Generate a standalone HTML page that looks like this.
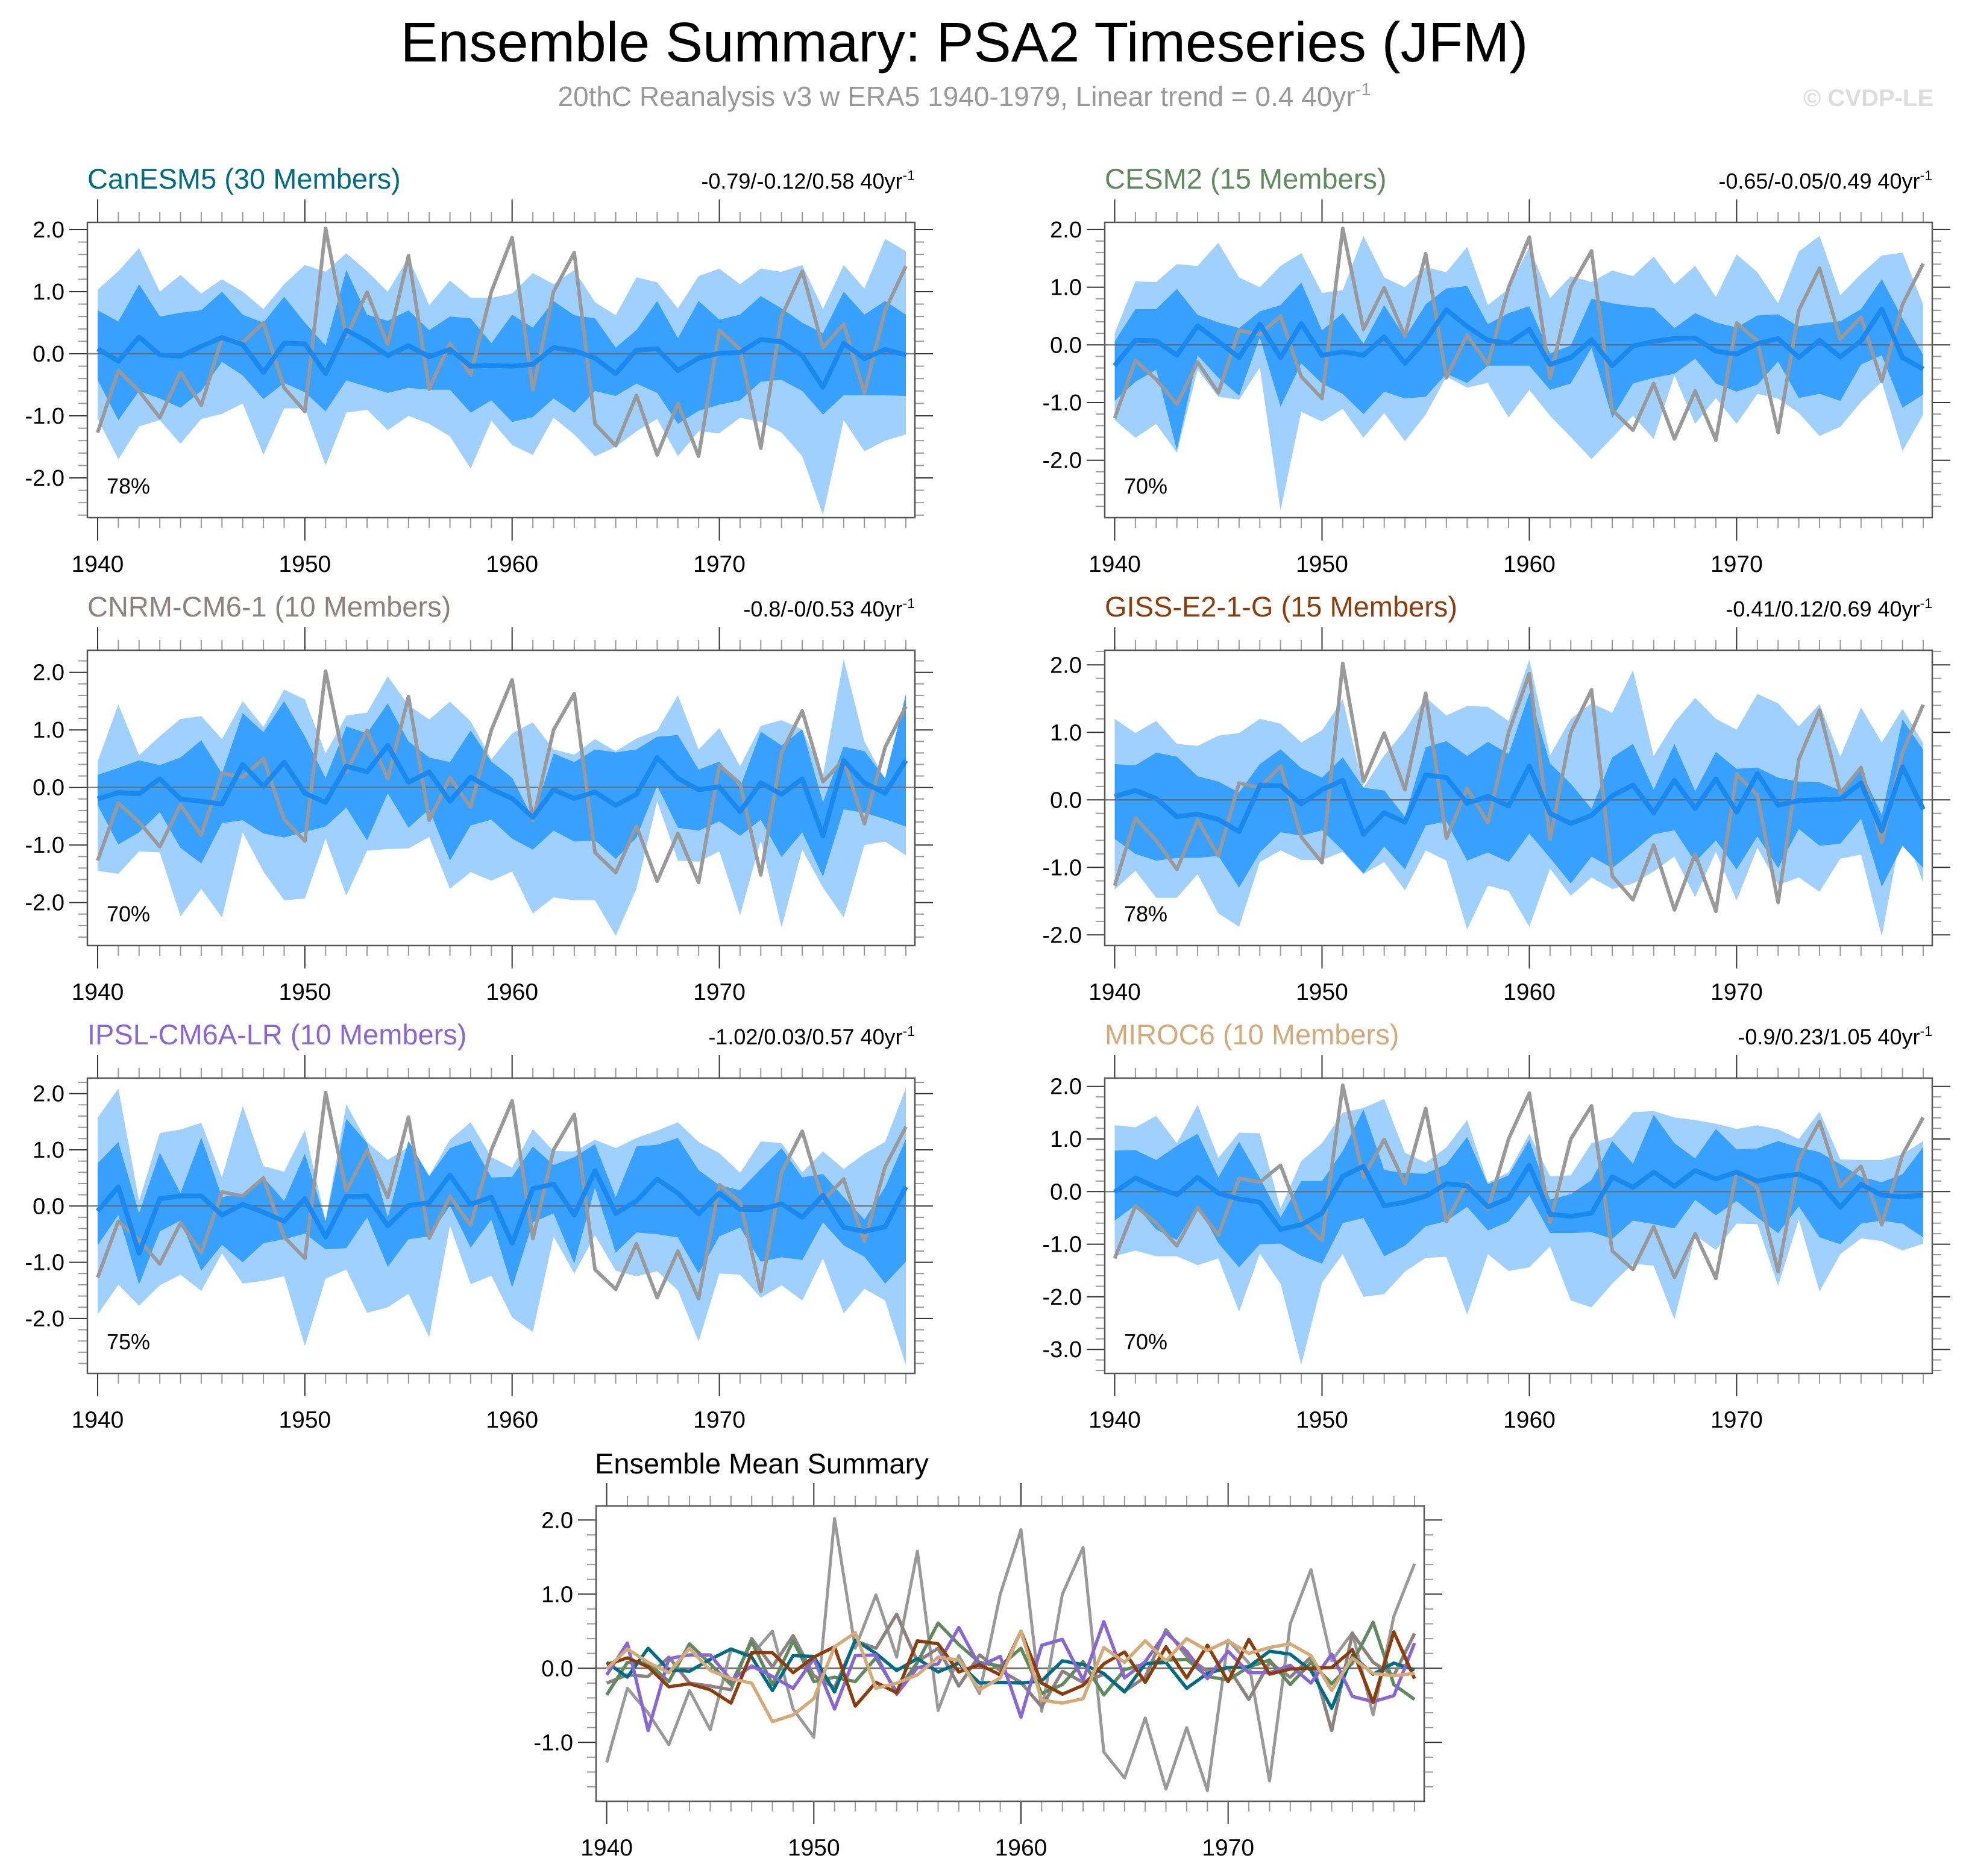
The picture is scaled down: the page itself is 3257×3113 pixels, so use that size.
<!DOCTYPE html>
<html><head><meta charset="utf-8">
<style>
html,body{margin:0;padding:0;background:#fff;}
svg{display:block;font-family:"Liberation Sans",sans-serif;}
</style></head>
<body>
<svg id="chart" width="3257" height="3113" viewBox="0 0 3257 3113" xmlns="http://www.w3.org/2000/svg">
<rect width="3257" height="3113" fill="#fff"/>
<text x="1600" y="102" font-size="93" text-anchor="middle" fill="#000">Ensemble Summary: PSA2 Timeseries (JFM)</text>
<text x="1600" y="176" font-size="46" text-anchor="middle" fill="#999">20thC Reanalysis v3 w ERA5 1940-1979, Linear trend = 0.4 40yr<tspan dy="-18" font-size="29">-1</tspan></text>
<text x="3208" y="176" font-size="40" font-weight="bold" text-anchor="end" fill="#ddd">© CVDP-LE</text>
<g id="plots"></g>
</svg>
<script>
const years = Array.from({length:40},(_,i)=>1940+i);
const observed = [-1.27,-0.27,-0.6,-1.03,-0.3,-0.83,0.25,0.18,0.5,-0.55,-0.93,2.02,0.27,0.99,0.15,1.58,-0.57,0.17,-0.34,1.0,1.87,-0.58,1.0,1.63,-1.13,-1.48,-0.67,-1.63,-0.8,-1.65,0.38,0.07,-1.52,0.6,1.33,0.1,0.48,-0.63,0.7,1.41];

const canMean=[0.08,-0.12,0.27,-0.02,-0.04,0.12,0.26,0.15,-0.3,0.17,0.16,-0.32,0.38,0.2,-0.03,0.13,-0.05,0.07,-0.2,-0.19,-0.2,-0.17,0.1,0.05,-0.07,-0.32,0.06,0.08,-0.27,-0.07,0.01,0.02,0.23,0.19,-0.03,-0.54,0.17,-0.08,0.07,-0.02];
const canDarkHi=[0.7,0.52,1.12,0.6,0.66,0.7,1.0,0.63,0.5,0.92,0.5,0.13,1.35,0.63,0.53,0.7,0.38,0.6,0.57,0.17,0.63,0.42,0.85,0.62,0.57,0.1,0.38,0.85,0.25,0.85,0.55,0.63,0.93,0.73,0.5,0.33,1.0,0.63,0.85,0.63];
const canDarkLo=[-0.42,-1.07,-0.6,-0.72,-0.87,-0.6,-0.13,-0.35,-0.73,-0.47,-0.62,-0.93,-0.43,-0.53,-0.63,-0.55,-0.58,-0.58,-0.95,-0.75,-1.1,-1.02,-0.72,-0.95,-0.6,-0.68,-0.48,-0.63,-1.13,-0.92,-0.82,-0.75,-0.45,-0.42,-0.6,-0.98,-0.67,-0.67,-0.67,-0.68];
const canLightHi=[1.03,1.33,1.7,1.0,1.27,0.97,1.2,1.0,0.72,1.12,1.43,1.32,1.62,1.33,1.0,1.55,0.78,1.18,0.9,0.9,0.97,1.3,1.12,1.35,0.83,0.62,1.23,1.15,0.73,1.25,1.37,1.12,1.37,1.32,1.43,0.72,1.43,1.05,1.85,1.65];
const canLightLo=[-1.05,-1.7,-1.17,-1.07,-1.45,-1.05,-0.97,-0.8,-1.63,-0.88,-0.88,-1.8,-0.95,-0.9,-1.23,-1.0,-1.13,-1.33,-1.85,-1.08,-1.47,-1.63,-1.03,-1.3,-1.65,-1.5,-1.25,-1.05,-1.65,-1.25,-1.28,-1.03,-1.1,-1.27,-1.65,-2.6,-1.07,-1.57,-1.4,-1.3];

const cesMean=[-0.36,0.08,0.07,-0.18,0.33,0.06,-0.22,0.36,-0.22,0.37,-0.18,-0.12,-0.18,0.14,-0.32,0.08,0.61,0.32,0.08,0.03,0.27,-0.34,-0.22,0.09,-0.36,-0.02,0.06,0.11,0.12,-0.11,-0.16,0.02,0.11,-0.22,0.08,-0.21,0.07,0.62,-0.22,-0.42];
const cesDarkHi=[0.06,0.62,0.62,0.97,0.52,0.39,0.29,0.58,0.69,1.08,0.25,0.55,0.02,0.69,0.13,0.7,0.98,1.02,0.36,0.55,0.67,-0.15,-0.01,0.8,0.72,0.67,0.64,0.29,0.55,0.39,0.3,0.51,0.53,0.32,0.37,0.41,0.62,1.14,0.46,-0.18];
const cesDarkLo=[-0.97,-0.64,-0.43,-1.82,-0.18,-0.57,-0.88,0.13,-1.07,-0.32,-0.67,-0.85,-1.2,-0.81,-0.93,-0.9,-0.5,-0.66,-0.36,-0.36,-0.36,-0.78,-0.67,-0.05,-1.26,-0.67,-0.57,-0.5,-0.24,-0.67,-0.81,-0.69,-0.29,-0.92,-0.85,-0.97,-0.34,-0.18,-1.09,-0.86];
const cesLightHi=[0.2,1.1,1.09,1.4,1.37,1.77,1.17,1.0,1.37,1.59,0.9,0.95,1.89,1.17,1.0,1.35,1.26,1.7,0.69,0.97,1.7,0.81,1.19,1.09,1.29,1.19,1.53,1.05,1.37,0.83,1.57,1.26,0.72,1.62,1.89,0.86,1.23,1.55,1.6,0.7];
const cesLightLo=[-1.3,-1.61,-1.37,-1.87,-0.43,-0.9,-0.95,-0.39,-2.87,-1.16,-1.33,-1.11,-1.61,-1.18,-1.67,-1.21,-0.55,-0.74,-0.66,-1.26,-0.78,-1.23,-1.6,-1.98,-1.61,-1.23,-1.63,-0.53,-1.37,-0.92,-1.37,-0.85,-0.93,-1.18,-1.58,-1.42,-0.99,-0.64,-1.84,-1.21];

const cnrmMean=[-0.2,-0.09,-0.11,0.15,-0.2,-0.24,-0.29,0.4,0.02,0.44,-0.1,-0.26,0.37,0.27,0.73,0.09,0.27,-0.24,0.18,-0.03,-0.19,-0.52,-0.04,-0.19,-0.08,-0.31,-0.12,0.52,0.16,-0.04,0.01,-0.42,0.08,-0.12,0.15,-0.84,0.47,0.08,-0.1,0.47];
const cnrmDarkHi=[0.22,0.34,0.47,0.39,0.52,0.82,0.24,1.29,0.96,1.5,0.89,0.16,1.06,0.94,1.46,0.8,0.52,0.44,0.99,0.45,0.17,-0.54,0.59,0.44,0.66,0.61,0.66,0.88,0.91,0.31,0.45,0,0.97,0.73,1.01,-0.26,0.71,0.63,0.16,1.62];
const cnrmDarkLo=[-0.31,-0.99,-0.78,-0.43,-1.05,-1.32,-0.62,-0.57,-0.8,-0.87,-0.77,-0.68,-0.35,-0.92,-0.1,-0.7,-0.38,-1.27,-0.66,-0.56,-0.89,-1.08,-0.75,-0.94,-0.92,-1.24,-0.87,0.03,-0.7,-0.75,-0.59,-0.84,-0.56,-1.21,-0.78,-1.55,-0.38,-0.44,-0.55,-0.68];
const cnrmLightHi=[0.45,1.44,0.56,0.89,1.19,1.24,0.84,1.5,1.05,1.7,1.53,0.59,1.25,1.3,1.93,1.43,1.18,1.49,1.15,0.49,0.94,1.13,0.66,0.57,0.84,0.63,0.85,0.99,1.6,0.66,1.03,0.37,1.07,1.17,1.01,0.21,2.23,0.8,0.14,1.62];
const cnrmLightLo=[-1.45,-1.5,-1.11,-1.13,-2.24,-1.76,-2.26,-0.78,-1.46,-1.96,-1.93,-0.89,-1.88,-1.1,-1.07,-1.06,-0.86,-1.76,-1.47,-1.62,-1.46,-2.19,-1.91,-1.96,-1.96,-2.58,-1.76,-0.24,-1.27,-1.29,-1.11,-2.22,-0.92,-2.43,-1.08,-1.74,-2.26,-1.0,-0.94,-1.18];

const gissMean=[0.05,0.14,0.02,-0.25,-0.21,-0.29,-0.47,0.21,0.21,-0.06,0.15,0.29,-0.51,-0.19,-0.33,0.37,0.33,-0.05,0.05,-0.09,0.5,-0.2,-0.35,-0.23,0.06,0.22,-0.19,0.29,-0.13,0.31,-0.18,0.39,-0.08,-0.01,0,0.01,0.25,-0.46,0.49,-0.14];
const gissDarkHi=[0.53,0.51,0.7,0.64,0.35,0.27,0.11,0.53,0.75,0.47,0.33,0.63,0.18,0.14,-0.25,0.78,0.87,0.65,0.86,0.68,1.58,0.54,0.24,-0.13,0.63,0.83,0.15,0.83,0.13,0.71,0.46,0.48,0.33,0.27,0.26,0.14,0.44,-0.23,1.19,0.74];
const gissDarkLo=[-0.58,-0.8,-0.9,-0.86,-0.86,-0.83,-1.3,-0.78,-0.48,-0.53,-0.45,-0.75,-1.09,-0.69,-1.03,-0.38,-0.32,-0.9,-0.78,-0.92,-0.5,-0.86,-1.24,-0.84,-1.01,-0.77,-0.51,-0.45,-0.92,-0.6,-1.03,-0.54,-1.01,-0.43,-0.68,-0.65,-0.28,-1.29,-0.68,-1.01];
const gissLightHi=[1.2,0.99,1.17,0.83,0.8,0.95,0.99,1.2,1.13,0.85,1.03,1.49,0.18,0.66,1.03,1.52,1.25,1.39,1.38,1.17,2.08,0.66,1.2,1.43,1.29,1.92,0.65,1.15,1.51,1.2,1.04,1.57,1.43,1.09,1.42,0.64,1.37,0.85,1.35,0.84];
const gissLightLo=[-1.33,-1.05,-1.45,-1.45,-1.1,-1.68,-1.88,-0.92,-0.75,-0.89,-0.89,-0.77,-1.1,-0.92,-1.34,-0.75,-0.9,-1.92,-1.27,-1.35,-1.88,-1.02,-1.42,-1.15,-1.32,-1.24,-1.06,-0.84,-1.44,-0.77,-1.49,-0.71,-1.26,-1.15,-1.36,-0.87,-0.81,-2.02,-0.38,-1.23];

const ipslMean=[-0.09,0.34,-0.84,0.13,0.18,0.18,-0.16,0.03,-0.11,-0.27,0.13,-0.55,0.17,0.18,-0.35,0.01,0.06,0.55,0.03,0.16,-0.66,0.31,0.39,-0.16,0.63,-0.13,0.09,0.48,0.23,-0.14,0.23,-0.06,-0.06,0.04,-0.2,0.19,-0.38,-0.45,-0.37,0.34];
const ipslDarkHi=[0.76,1.14,-0.13,0.95,0.23,1.22,0.16,0.22,0.51,0.09,0.93,-0.27,1.55,1.12,-0.2,1.16,0.53,1.03,1.16,0.51,0.52,1.06,0.73,0.87,1.1,0.16,1.06,1.09,1.21,0.64,0.37,0.28,0.66,1.03,0.51,0.57,0.16,-0.24,0.34,1.19];
const ipslDarkLo=[-0.7,-0.16,-1.4,-0.45,-0.26,-1.15,-0.69,-1.0,-0.66,-0.59,-0.49,-0.77,-0.75,-0.2,-1.08,-0.59,-0.54,0.01,-0.74,-0.24,-1.45,-0.29,-0.13,-1.02,0.33,-0.83,-0.47,-0.5,-0.56,-1.2,-0.54,-0.38,-0.99,-0.91,-0.96,-0.29,-0.7,-0.9,-1.38,-0.99];
const ipslLightHi=[1.57,2.09,0.09,1.3,1.36,1.48,0.51,1.78,0.71,0.61,1.35,-0.26,1.81,1.14,0.82,1.05,0.54,1.18,1.49,0.87,0.68,1.37,0.98,0.97,1.18,1.03,1.21,1.34,1.49,1.14,0.94,0.59,1.15,1.12,0.6,0.97,0.66,0.93,1.14,2.1];
const ipslLightLo=[-1.93,-1.4,-1.77,-1.41,-1.22,-1.51,-0.84,-1.38,-1.33,-1.25,-2.49,-1.29,-1.13,-1.9,-1.8,-1.56,-2.33,-0.35,-1.39,-1.24,-1.98,-2.24,-0.54,-1.2,-0.52,-1.15,-1.25,-1.16,-1.5,-2.41,-1.2,-1.22,-1.63,-1.41,-1.68,-0.93,-1.91,-1.47,-1.68,-2.83];

const mirMean=[-0.01,0.26,0.08,-0.06,0.27,-0.03,-0.14,-0.2,-0.72,-0.63,-0.41,0.29,0.48,-0.27,-0.2,-0.09,0.15,0.11,-0.29,-0.13,0.5,-0.43,-0.47,-0.41,0.28,0.08,0.37,0.1,0.4,0.24,0.37,0.2,0.28,0.33,0.17,-0.3,0.14,-0.07,-0.1,-0.07];
const mirDarkHi=[0.78,0.79,0.6,0.87,1.1,0.27,0.95,0.26,-0.49,0.2,0.2,0.77,1.56,0.41,0.35,0.34,0.52,1.04,0.14,0.31,0.98,-0.15,-0.05,0.22,0.96,0.53,1.46,0.92,0.63,1.19,0.8,0.82,0.96,0.84,0.75,0.52,0.28,0.18,0.33,0.85];
const mirDarkLo=[-0.55,-0.26,-0.72,-0.92,-0.26,-0.98,-1.44,-1.0,-0.99,-1.22,-1.37,-0.6,-0.5,-1.23,-1.03,-0.66,-0.56,-0.29,-0.74,-0.57,-0.07,-0.79,-0.79,-0.77,-0.9,-0.55,-0.62,-0.7,-0.16,-0.45,-0.18,-0.49,-0.79,-0.28,-0.87,-1.0,-0.61,-0.55,-0.61,-0.87];
const mirLightHi=[1.26,1.22,1.44,0.92,1.65,0.64,1.12,1.11,-0.32,0.58,0.92,1.5,1.59,1.76,0.74,0.55,0.84,1.36,0.17,0.37,1.1,0.29,0.31,0.92,1.04,1.51,1.53,1.41,1.36,1.29,1.19,1.26,1.18,1.0,1.52,0.61,0.6,0.6,0.71,0.96];
const mirLightLo=[-1.23,-1.12,-1.23,-1.23,-1.4,-1.27,-2.28,-1.18,-1.75,-3.29,-1.73,-1.19,-2.0,-1.95,-1.52,-1.26,-1.24,-2.34,-1.19,-1.51,-1.44,-1.04,-2.07,-2.2,-1.75,-1.37,-1.41,-2.43,-0.83,-1.11,-0.61,-0.62,-1.79,-0.53,-1.9,-1.19,-0.89,-0.94,-1.12,-0.99];

const modelNames=["CanESM5 (30 Members)","CESM2 (15 Members)","CNRM-CM6-1 (10 Members)","GISS-E2-1-G (15 Members)","IPSL-CM6A-LR (10 Members)","MIROC6 (10 Members)"];
const trendLabels=["-0.79/-0.12/0.58 40yr","-0.65/-0.05/0.49 40yr","-0.8/-0/0.53 40yr","-0.41/0.12/0.69 40yr","-1.02/0.03/0.57 40yr","-0.9/0.23/1.05 40yr"];
const pctLabels=["78%","70%","70%","78%","75%","70%"];
const modelColors=["#006b85","#5e8a5e","#8c8282","#8b3d0c","#8866d4","#d4aa78"];
const yTickLabels=[["2.0","1.0","0.0","-1.0","-2.0"],["2.0","1.0","0.0","-1.0","-2.0"],["2.0","1.0","0.0","-1.0","-2.0"],["2.0","1.0","0.0","-1.0","-2.0"],["2.0","1.0","0.0","-1.0","-2.0"],["2.0","1.0","0.0","-1.0","-2.0","-3.0"]];
const xTickLabels=["1940","1950","1960","1970"];
const summaryYTicks=["2.0","1.0","0.0","-1.0"];

const NS="http://www.w3.org/2000/svg";
const root=document.getElementById('plots');
function mk(tag,attrs,parent){const e=document.createElementNS(NS,tag);for(const k in attrs)e.setAttribute(k,attrs[k]);(parent||root).appendChild(e);return e;}

const L=[
 {x0:145,x1:1518,y0:369,y1:859,xa:162,xb:1503,yz:587,u:103},
 {x0:1833,x1:3206,y0:369,y1:859,xa:1849.5,xb:3191,yz:572.3,u:95.7},
 {x0:145,x1:1518,y0:1079,y1:1569,xa:162,xb:1503,yz:1306.7,u:95.5},
 {x0:1833,x1:3206,y0:1079,y1:1569,xa:1849.5,xb:3191,yz:1327.3,u:112},
 {x0:145,x1:1518,y0:1789,y1:2279,xa:162,xb:1503,yz:2001.3,u:93.3},
 {x0:1833,x1:3206,y0:1789,y1:2279,xa:1849.5,xb:3191,yz:1977.3,u:87.3}
];
const bands=[
 [canMean,canDarkHi,canDarkLo,canLightHi,canLightLo],
 [cesMean,cesDarkHi,cesDarkLo,cesLightHi,cesLightLo],
 [cnrmMean,cnrmDarkHi,cnrmDarkLo,cnrmLightHi,cnrmLightLo],
 [gissMean,gissDarkHi,gissDarkLo,gissLightHi,gissLightLo],
 [ipslMean,ipslDarkHi,ipslDarkLo,ipslLightHi,ipslLightLo],
 [mirMean,mirDarkHi,mirDarkLo,mirLightHi,mirLightLo]
];

function axes(p){
  const sx=y=>p.xa+(y-1940)*(p.xb-p.xa)/39;
  const sy=v=>p.yz-v*p.u;
  return {sx,sy};
}
function drawFrameTicks(p,g,sx,sy,ylabels,prefix){
  for(let y=1940;y<=1979;y++){
    const major=(y%10===0);const len=major?38:17;const x=sx(y);
    mk('line',{x1:x,y1:p.y0,x2:x,y2:p.y0-len,stroke:major?'#333':'#999','stroke-width':2},g);
    mk('line',{x1:x,y1:p.y1,x2:x,y2:p.y1+len,stroke:major?'#333':'#999','stroke-width':2},g);
  }
  const vmax=(p.yz-p.y0)/p.u, vmin=(p.yz-p.y1)/p.u;
  for(let k=Math.ceil(vmin*5);k<=Math.floor(vmax*5);k++){
    const v=k/5;const major=(k%5===0);const len=major?30:15;const y=sy(v);
    mk('line',{x1:p.x0,y1:y,x2:p.x0-len,y2:y,stroke:major?'#333':'#999','stroke-width':2},g);
    mk('line',{x1:p.x1,y1:y,x2:p.x1+len,y2:y,stroke:major?'#333':'#999','stroke-width':2},g);
  }
  ylabels.forEach(s=>{
    const t=mk('text',{x:p.x0-38,y:sy(parseFloat(s))+13,'font-size':38,'text-anchor':'end',fill:'#000'},g);
    
    
    t.textContent=s;
  });
  xTickLabels.forEach(s=>{
    const t=mk('text',{x:sx(parseInt(s)),y:p.y1+90,'font-size':39,'text-anchor':'middle',fill:'#000'},g);
    
    
    t.textContent=s;
  });
  const fr=mk('rect',{x:p.x0,y:p.y0,width:p.x1-p.x0,height:p.y1-p.y0,fill:'none',stroke:'#555','stroke-width':2.5},g);
  
  
}
function poly(hi,lo,sx,sy){
  let pts=years.map((y,i)=>sx(y)+','+sy(hi[i]));
  for(let i=39;i>=0;i--)pts.push(sx(years[i])+','+sy(lo[i]));
  return pts.join(' ');
}
function line(vals,sx,sy){return years.map((y,i)=>sx(y)+','+sy(vals[i])).join(' ');}

L.forEach((p,k)=>{
  const g=mk('g',{});
  
  
  const {sx,sy}=axes(p);
  const [mean,dh,dl,lh,ll]=bands[k];
  const cp=mk('clipPath',{id:'cp'+k},g);
  mk('rect',{x:p.x0,y:p.y0,width:p.x1-p.x0,height:p.y1-p.y0},cp);
  const inner=mk('g',{'clip-path':'url(#cp'+k+')'},g);
  const b1=mk('polygon',{points:poly(lh,ll,sx,sy),fill:'#a0d0fe'},inner);
  
  
  const b2=mk('polygon',{points:poly(dh,dl,sx,sy),fill:'#38a0fe'},inner);
  
  
  const z=mk('line',{x1:p.x0,x2:p.x1,y1:sy(0),y2:sy(0),stroke:'#666','stroke-width':2.5,'stroke-opacity':0.8},inner);
  
  
  const ob=mk('polyline',{points:line(observed,sx,sy),fill:'none',stroke:'#999','stroke-width':6,'stroke-linejoin':'round'},inner);
  
  
  const ml=mk('polyline',{points:line(mean,sx,sy),fill:'none',stroke:'#1a88ee','stroke-width':8,'stroke-linejoin':'round'},inner);
  
  
  drawFrameTicks(p,g,sx,sy,yTickLabels[k],'panel');
  const t=mk('text',{x:p.x0,y:p.y0-56,'font-size':47,fill:modelColors[k]},g);
  
  
  t.textContent=modelNames[k];
  const tr=mk('text',{x:p.x1,y:p.y0-56,'font-size':36,'text-anchor':'end',fill:'#000'},g);
  
  
  tr.textContent=trendLabels[k];
  const sup=mk('tspan',{dy:-14,'font-size':23},tr);sup.textContent='-1';
  const pc=mk('text',{x:p.x0+32,y:p.y1-40,'font-size':36,fill:'#000'},g);
  
  
  pc.textContent=pctLabels[k];
});

(function(){
  const p={x0:989,x1:2363,y0:2499,y1:2989,xa:1006.6,xb:2347,yz:2768.3,u:123};
  const g=mk('g',{});
  
  
  const {sx,sy}=axes(p);
  const cp=mk('clipPath',{id:'cps'},g);
  mk('rect',{x:p.x0,y:p.y0,width:p.x1-p.x0,height:p.y1-p.y0},cp);
  const inner=mk('g',{'clip-path':'url(#cps)'},g);
  const z=mk('line',{x1:p.x0,x2:p.x1,y1:sy(0),y2:sy(0),stroke:'#666','stroke-width':2.5},inner);
  
  
  const ob=mk('polyline',{points:line(observed,sx,sy),fill:'none',stroke:'#999','stroke-width':5,'stroke-linejoin':'round'},inner);
  
  
  const order=[2,1,0,4,3,5];
  order.forEach(k=>{
    const l=mk('polyline',{points:line(bands[k][0],sx,sy),fill:'none',stroke:modelColors[k],'stroke-width':5.5,'stroke-linejoin':'round'},inner);
    
    
  });
  drawFrameTicks(p,g,sx,sy,summaryYTicks,'summary');
  const t=mk('text',{x:987,y:2445,'font-size':47,fill:'#000'},g);
  
  
  t.textContent='Ensemble Mean Summary';
})();
</script>
</body></html>
